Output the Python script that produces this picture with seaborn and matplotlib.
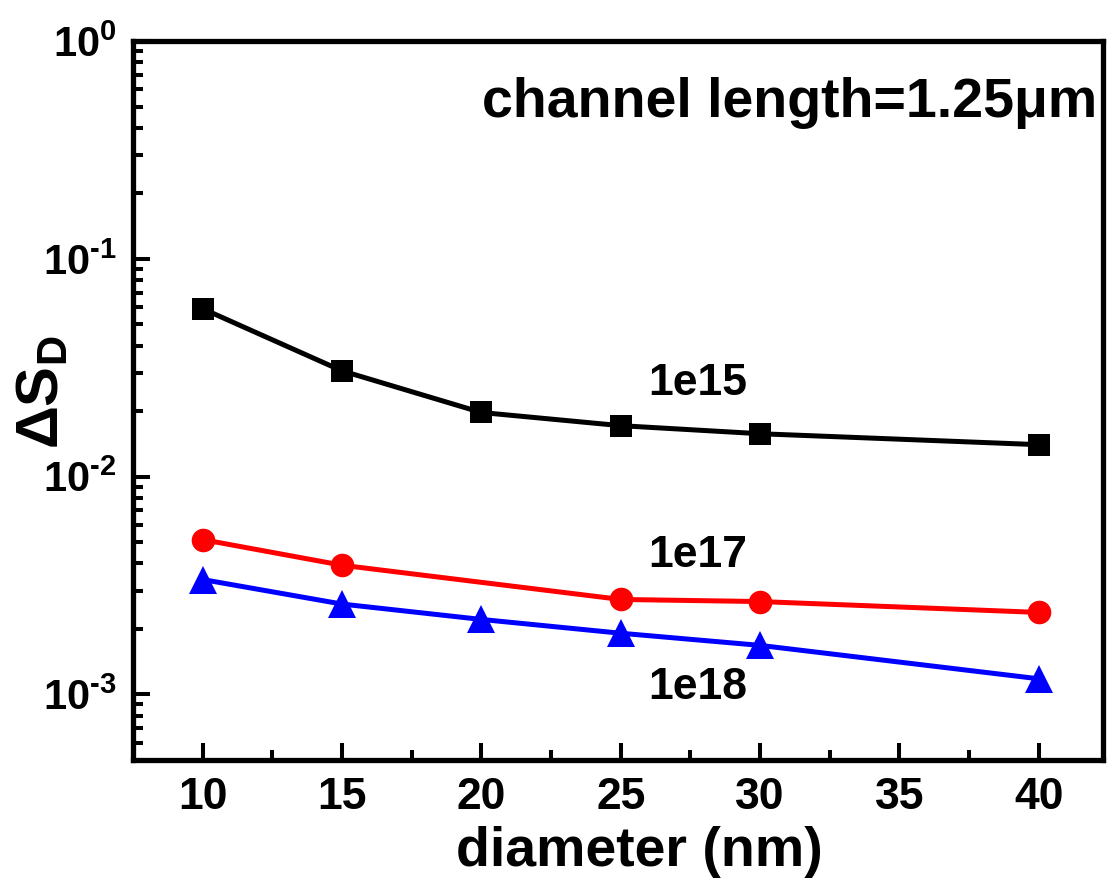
import matplotlib
matplotlib.use("Agg")
import matplotlib.pyplot as plt
import seaborn as sns
import numpy as np
from matplotlib.ticker import LogLocator, MultipleLocator, NullFormatter, FixedLocator, FuncFormatter

# ---- data ----
diam_1e15 = [10, 15, 20, 25, 30, 40]
ds_1e15 = [0.0590, 0.0306, 0.0197, 0.01714, 0.01574, 0.01402]
diam_1e17 = [10, 15, 25, 30, 40]
ds_1e17 = [0.00514, 0.00392, 0.00273, 0.00267, 0.00238]
diam_1e18 = [10, 15, 20, 25, 30, 40]
ds_1e18 = [0.00337, 0.00260, 0.00221, 0.00191, 0.00168, 0.00118]
series_labels = ["1e15", "1e17", "1e18"]
label_x = [26.0, 26.0, 26.0]
label_y = [0.0238, 0.00383, 0.00095]
x_ticks = [10, 15, 20, 25, 30, 35, 40]
annotation = "channel length=1.25\u03bcm"

sns.set_theme(style="ticks")
plt.rcParams["font.family"] = ["Liberation Sans", "DejaVu Sans"]
plt.rcParams["font.weight"] = "bold"
plt.rcParams["mathtext.fontset"] = "custom"
plt.rcParams["mathtext.rm"] = "Liberation Sans:bold"
plt.rcParams["mathtext.bf"] = "Liberation Sans:bold"
plt.rcParams["mathtext.it"] = "Liberation Sans:bold"
plt.rcParams["mathtext.default"] = "rm"
for k in ["text.color", "axes.labelcolor", "xtick.color", "ytick.color", "axes.edgecolor"]:
    plt.rcParams[k] = "black"

fig = plt.figure(figsize=(11.07, 8.82), dpi=100)
ax = fig.add_axes([0.1201, 0.1383, 0.8762, 0.8152])

lw = 3.6
sns.lineplot(x=diam_1e15, y=ds_1e15, ax=ax, color="black", marker="s",
             markersize=16, linewidth=lw, markeredgewidth=0, legend=False)
sns.lineplot(x=diam_1e17, y=ds_1e17, ax=ax, color="#ff0000", marker="o",
             markersize=17, linewidth=lw, markeredgewidth=0, legend=False)
sns.lineplot(x=diam_1e18, y=ds_1e18, ax=ax, color="#0000ff", marker="^",
             markersize=20, linewidth=lw, markeredgewidth=0, legend=False)

ax.set_yscale("log")
ax.set_ylim(5e-4, 1)
ax.set_xlim(7.5, 42.3)


def log_fmt(v, p):
    e = int(round(np.log10(v)))
    if e < 0:
        return "$10^{\\text{-%d}}$" % (-e)
    return "$10^{%d}$" % e


ax.xaxis.set_major_locator(FixedLocator(x_ticks))
ax.xaxis.set_minor_locator(MultipleLocator(2.5))
ax.yaxis.set_major_locator(LogLocator(base=10, numticks=10))
ax.yaxis.set_minor_locator(LogLocator(base=10, subs=np.arange(2, 10), numticks=20))
ax.yaxis.set_minor_formatter(NullFormatter())
ax.yaxis.set_major_formatter(FuncFormatter(log_fmt))

for s in ax.spines.values():
    s.set_linewidth(3.8)
    s.set_color("black")

ax.tick_params(which="both", direction="in", top=False, right=False,
               width=2.9, color="black")
ax.tick_params(which="major", length=12)
ax.tick_params(which="minor", length=7)
ax.tick_params(axis="x", which="major", labelsize=32, pad=12)
ax.tick_params(axis="y", which="major", labelsize=30, pad=12)
for t in ax.get_xticklabels():
    t.set_fontweight("bold")

ax.set_xlabel("diameter (nm)", fontsize=40, fontweight="bold")
ax.xaxis.set_label_coords(0.5216, -0.092)
ax.set_ylabel("\u0394S$_\\mathregular{D}$", fontsize=43, fontweight="bold")
ax.yaxis.set_label_coords(-0.064, 0.512)

for lab, lx, ly in zip(series_labels, label_x, label_y):
    ax.text(lx, ly, lab, fontsize=32, fontweight="bold", ha="left", va="baseline")

ax.text(0.994, 0.894, annotation, transform=ax.transAxes, fontsize=40,
        fontweight="bold", ha="right", va="baseline")

fig.savefig("out.png", dpi=100)
